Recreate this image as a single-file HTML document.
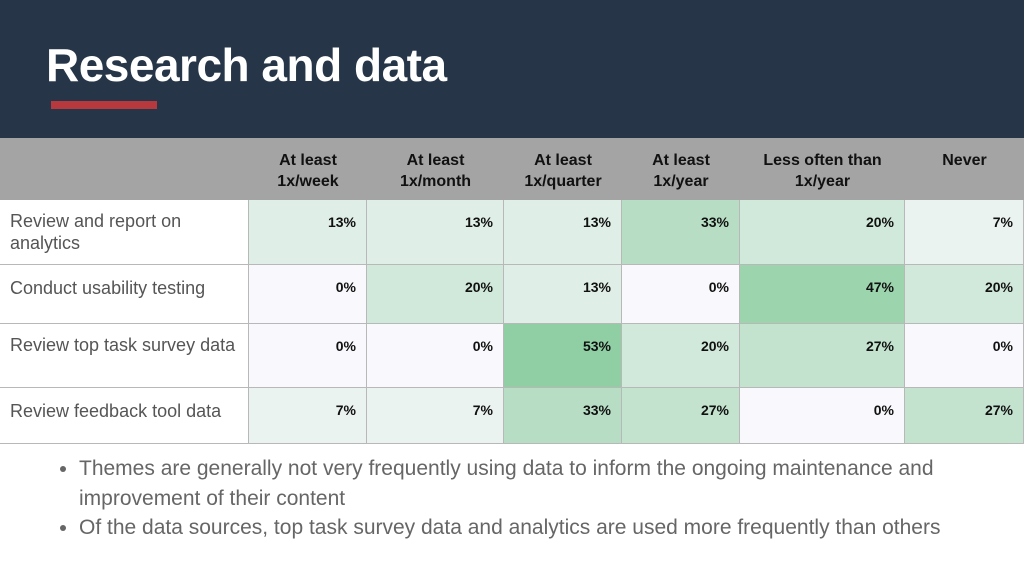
<!DOCTYPE html>
<html><head><meta charset="utf-8"><style>
body{margin:0;width:1024px;height:576px;overflow:hidden;background:#fff;font-family:"Liberation Sans",sans-serif;position:relative}
#top{position:absolute;left:0;top:0;width:1024px;height:138px;background:#263648}
#title{position:absolute;left:46px;top:38px;color:#fff;font-size:46px;font-weight:bold;letter-spacing:-0.5px}
#bar{position:absolute;left:51px;top:101px;width:106px;height:8px;background:#b7393d}
#hdr{position:absolute;left:0;top:138px;width:1024px;height:62px;background:#a4a4a4}
.h{position:absolute;top:150px;text-align:center;font-size:16px;font-weight:bold;color:#111;line-height:21px}
.c{position:absolute;box-sizing:border-box;border-right:1px solid #b8b8b8;border-bottom:1px solid #b8b8b8;font-size:14px;font-weight:bold;color:#111;text-align:right;padding:14px 10px 0 0}
.l{position:absolute;box-sizing:border-box;border-right:1px solid #b8b8b8;border-bottom:1px solid #b8b8b8;font-size:18px;color:#555;padding:10px 0 0 10px;line-height:22px}
ul{position:absolute;left:34px;top:454px;margin:0;padding:0 0 0 45px;width:900px;font-size:21px;line-height:29.5px;color:#666}
li{margin:0}
</style></head><body>
<div id="top"></div>
<div id="title">Research and data</div>
<div id="bar"></div>
<div id="hdr"></div>
<div id="tbl"></div>
<ul>
<li>Themes are generally not very frequently using data to inform the ongoing maintenance and improvement of their content</li>
<li>Of the data sources, top task survey data and analytics are used more frequently than others</li>
</ul>
<script>
const categories=["At least<br>1x/week","At least<br>1x/month","At least<br>1x/quarter","At least<br>1x/year","Less often than<br>1x/year","Never"];
const rows=["Review and report on analytics","Conduct usability testing","Review top task survey data","Review feedback tool data"];
const r0=[13,13,13,33,20,7];
const r1=[0,20,13,0,47,20];
const r2=[0,0,53,20,27,0];
const r3=[7,7,33,27,0,27];
const values=[r0,r1,r2,r3];
const colX=[249,367,504,622,740,905,1024];
const rowY=[200,265,324,388,444];
const t=document.getElementById('tbl');
const lo=[249,248,252],hi=[143,207,163],mx=53;
function col(v){const f=Math.min(v/mx,1);return 'rgb('+lo.map((a,i)=>Math.round(a+(hi[i]-a)*f)).join(',')+')';}
categories.forEach((c,i)=>{const d=document.createElement('div');d.className='h';


d.style.left=colX[i]+'px';d.style.width=(colX[i+1]-colX[i])+'px';d.innerHTML=c;t.appendChild(d);});
rows.forEach((r,j)=>{const h=rowY[j+1]-rowY[j];
const l=document.createElement('div');l.className='l';


l.style.cssText+=`left:0;top:${rowY[j]}px;width:249px;height:${h}px`;l.textContent=r;
if(j==1||j==3)l.style.paddingTop='12px';t.appendChild(l);
values[j].forEach((v,i)=>{const d=document.createElement('div');d.className='c';


d.style.cssText+=`left:${colX[i]}px;top:${rowY[j]}px;width:${colX[i+1]-colX[i]}px;height:${h}px;background:${col(v)}`;
d.textContent=v+'%';t.appendChild(d);});});
</script>
</body></html>
